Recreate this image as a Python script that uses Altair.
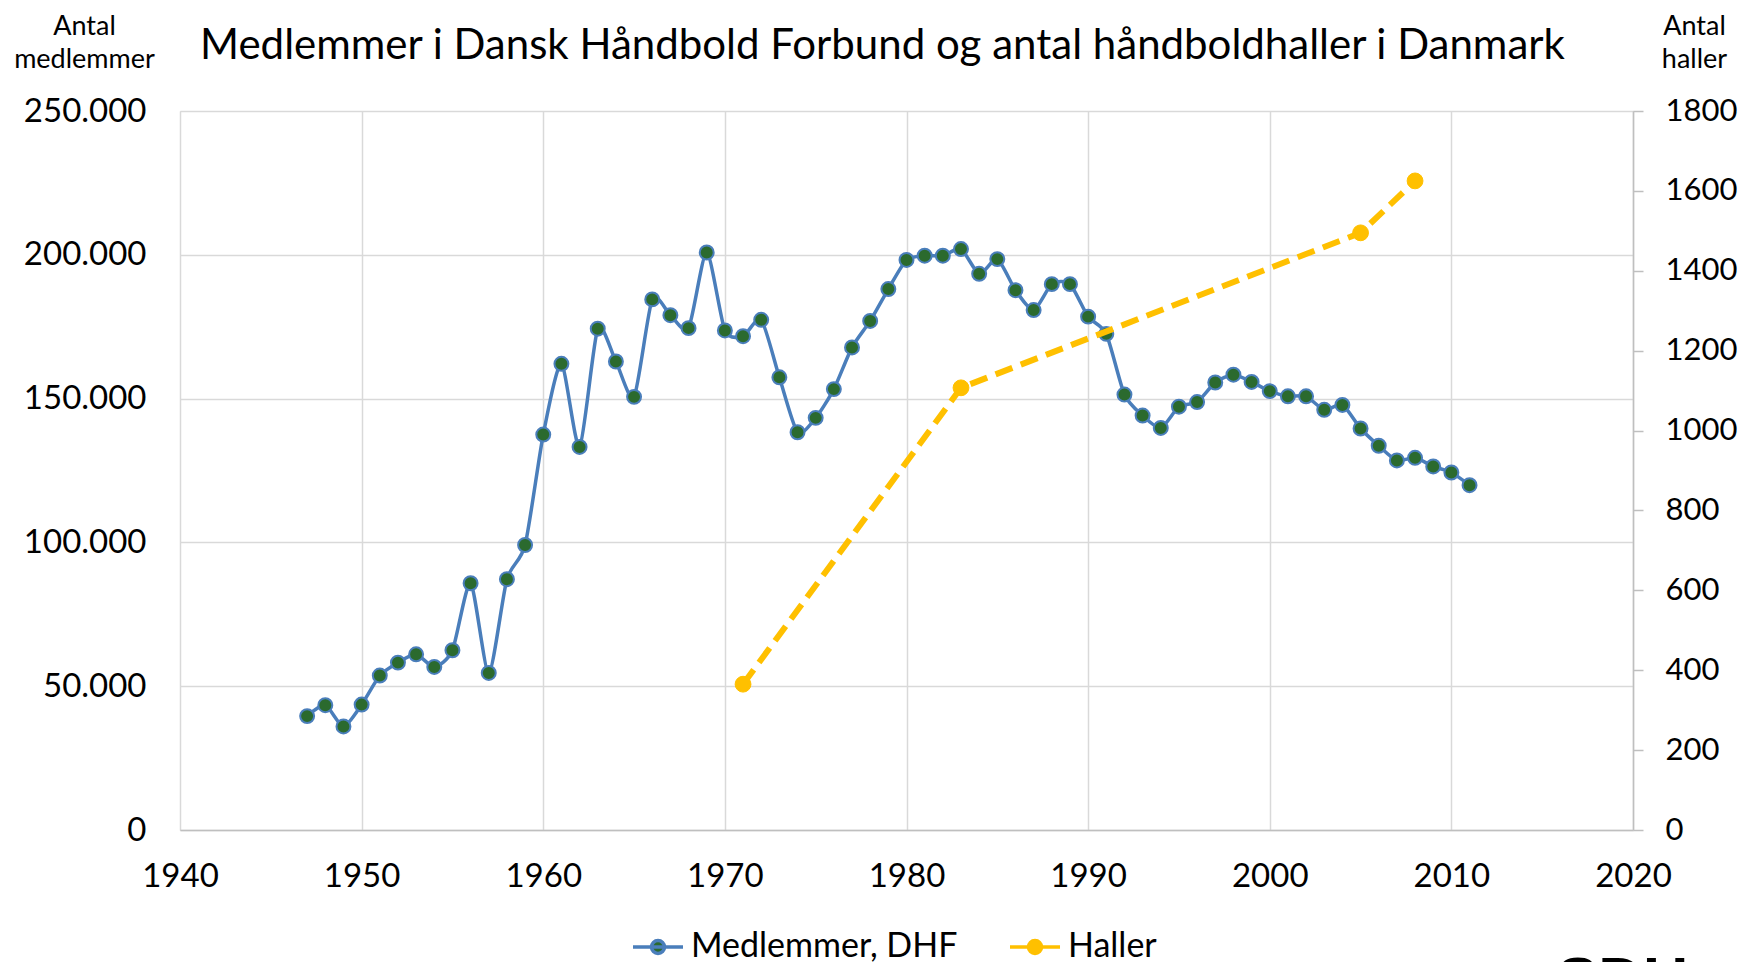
import altair as alt
import pandas as pd

# ---------------- data ----------------
series_names = ["Medlemmer, DHF", "Haller"]
title_text = "Medlemmer i Dansk Håndbold Forbund og antal håndboldhaller i Danmark"
logo_text = ["SDU"]

member_years = list(range(1947, 2012))
members = [
    39600, 43400, 36000, 43600, 53700, 58200, 61100, 56700, 62500, 85800,   # 1947-1956
    54600, 87200, 99100, 137500, 162100, 133200, 174300, 162900, 150600,    # 1957-1965
    184500, 179000, 174500, 200800, 173700, 171700, 177400, 157400, 138300, # 1966-1974
    143300, 153300, 167800, 177000, 188100, 198200, 199700, 199700, 202000, # 1975-1983
    193400, 198500, 187700, 180800, 189800, 189800, 178500, 172500, 151400, # 1984-1992
    144100, 139800, 147200, 148800, 155600, 158300, 155800, 152600, 150800, # 1993-2001
    150800, 146100, 147800, 139600, 133600, 128500, 129400, 126400, 124300, # 2002-2010
    119900,                                                                 # 2011
]

hall_years = [1971, 1983, 2005, 2008]
halls = [365, 1107, 1495, 1625]

x_ticks = list(range(1940, 2021, 10))
left_ticks = list(range(0, 250001, 50000))
right_ticks = list(range(0, 1801, 200))

# ---------------- style ----------------
FONT = "Lato"
BLUE = "#4A7EBB"
GREEN = "#2B6A2E"
YELLOW = "#FFC000"
GRID = "#d9d9d9"
DOMAIN = "#bfbfbf"
TICK_FS = 33

df_m = pd.DataFrame({"year": member_years, "value": members, "series": series_names[0]})
df_h = pd.DataFrame({"year": hall_years, "value": halls, "series": series_names[1]})
df_logo = pd.DataFrame({"t": logo_text})

x_enc = alt.X(
    "year:Q",
    scale=alt.Scale(domain=[1940, 2020], nice=False, zero=False),
    axis=alt.Axis(
        values=x_ticks, format="d", title=None, labelFlush=False,
        grid=True, gridColor=GRID, gridWidth=1.5,
        ticks=False, domain=True, domainColor=DOMAIN, domainWidth=1.5,
        labelFont=FONT, labelFontSize=TICK_FS, labelColor="black", labelPadding=30,
    ),
)

legend_path = ("M-1,0L1,0M-0.26,0A0.26,0.26,0,1,1,0.26,0"
               "A0.26,0.26,0,1,1,-0.26,0Z")


def make_legend():
    return alt.Legend(
        title=None, orient="none", legendX=451, legendY=809,
        direction="horizontal", symbolType=legend_path, symbolSize=2500,
        symbolStrokeWidth=3.5, symbolOpacity=1, labelFont=FONT, labelFontSize=34,
        labelColor="black", labelOffset=6, columnPadding=45, padding=0,
        labelLimit=600,
    )


stroke_enc = alt.Stroke(
    "series:N",
    scale=alt.Scale(domain=series_names, range=[BLUE, YELLOW]),
    legend=make_legend(),
)
fill_enc = alt.Fill(
    "series:N",
    scale=alt.Scale(domain=series_names, range=[GREEN, YELLOW]),
    legend=make_legend(),
)

y_left = alt.Y(
    "value:Q",
    scale=alt.Scale(domain=[0, 250000], nice=False),
    axis=alt.Axis(
        values=left_ticks, labelFlush=False,
        labelExpr="replace(format(datum.value, ','), ',', '.')",
        title=["Antal", "medlemmer"], titleAngle=0, titleX=-96, titleY=-77,
        titleAlign="center", titleBaseline="alphabetic", titleFont=FONT,
        titleFontSize=27, titleFontWeight="normal", titleLineHeight=33,
        titleColor="black",
        grid=True, gridColor=GRID, gridWidth=1.5,
        domain=False, ticks=False,
        labelFont=FONT, labelFontSize=TICK_FS, labelColor="black", labelPadding=34,
    ),
)

y_right = alt.Y(
    "value:Q",
    scale=alt.Scale(domain=[0, 1800], nice=False),
    axis=alt.Axis(
        orient="right", values=right_ticks, format="d", labelFlush=False,
        title=["Antal", "haller"], titleAngle=0, titleX=61, titleY=-77,
        titleAlign="center", titleBaseline="alphabetic", titleFont=FONT,
        titleFontSize=27, titleFontWeight="normal", titleLineHeight=33,
        titleColor="black",
        grid=False, domain=True, domainColor=DOMAIN, domainWidth=1.5,
        ticks=True, tickColor=DOMAIN, tickWidth=1.5, tickSize=10,
        labelFont=FONT, labelFontSize=31, labelColor="black", labelPadding=22,
    ),
)

line_m = alt.Chart(df_m).mark_line(
    interpolate="cardinal", tension=0.3, strokeWidth=3.5
).encode(x=x_enc, y=y_left, stroke=stroke_enc)

pts_m = alt.Chart(df_m).mark_circle(
    size=195, strokeWidth=2, opacity=1
).encode(x=x_enc, y=y_left, fill=fill_enc, stroke=stroke_enc)

line_h = alt.Chart(df_h).mark_line(
    strokeWidth=6, strokeDash=[18, 9], strokeCap="butt"
).encode(x=x_enc, y=y_right, stroke=stroke_enc)

pts_h = alt.Chart(df_h).mark_circle(
    size=250, strokeWidth=1, opacity=1
).encode(x=x_enc, y=y_right, fill=fill_enc, stroke=stroke_enc)

logo = alt.Chart(df_logo).mark_text(
    font="Liberation Sans", fontWeight="bold", fontSize=62, color="black",
    align="left", baseline="top",
).encode(text="t:N", x=alt.value(1377), y=alt.value(840))

left = alt.layer(line_m, pts_m)
right = alt.layer(line_h, pts_h)

chart = (
    alt.layer(left, right, logo)
    .resolve_scale(y="independent")
    .properties(
        width=1453, height=719,
        autosize=alt.AutoSizeParams(type="none"),
        padding={"left": 172, "top": 103, "right": 105, "bottom": 132},
        title=alt.TitleParams(
            text=title_text, font=FONT, fontSize=42, fontWeight="normal",
            color="black", anchor="middle", frame="group", dx=-24,
            baseline="alphabetic", offset=0, dy=89,
        ),
    )
    .configure_view(stroke=None)
    .configure(background="white")
)

chart.save("out.html", embed_options={"renderer": "svg", "actions": False})
